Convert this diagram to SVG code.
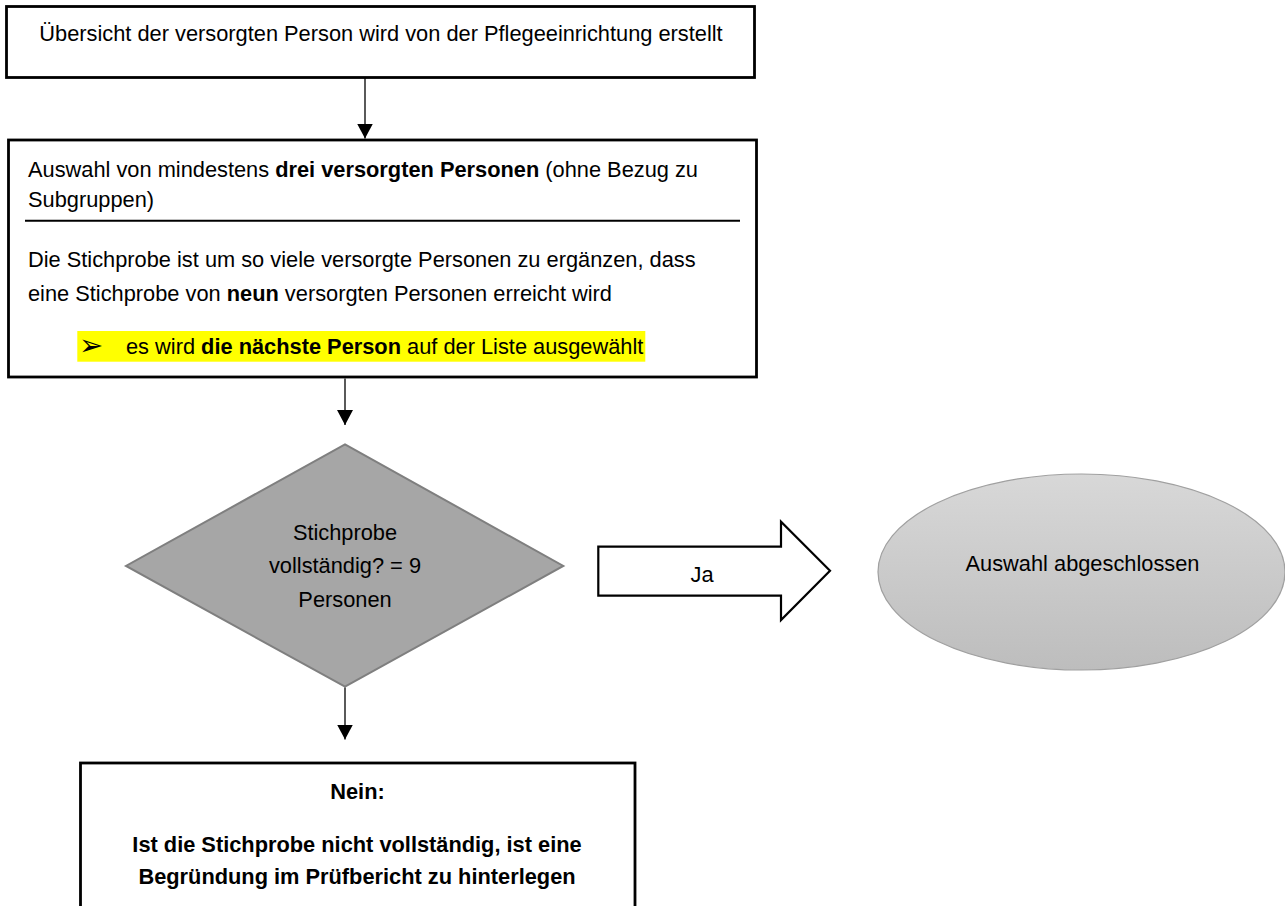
<svg xmlns="http://www.w3.org/2000/svg" width="1285" height="906" viewBox="0 0 1285 906">
<style>
text{font-family:"Liberation Sans",Arial,sans-serif;font-size:21.8px;fill:#000}
.b{font-weight:bold}
.box{fill:#fff;stroke:#000;stroke-width:2.8}
.conn{stroke:#000;stroke-width:1.3;fill:none}
.mid{text-anchor:middle}
</style>
<defs>
<marker id="ah" markerWidth="16" markerHeight="16" viewBox="0 0 16 16" refX="15" refY="8" orient="auto" markerUnits="userSpaceOnUse">
<path d="M0,0 L15,8 L0,16 Z" fill="#000"/>
</marker>
<linearGradient id="eg" x1="0" y1="0" x2="0" y2="1">
<stop offset="0" stop-color="#d8d8d8"/>
<stop offset="1" stop-color="#bdbdbd"/>
</linearGradient>
</defs>
<rect width="1285" height="906" fill="#fff"/>

<g id="n1">
<rect class="box" x="6.5" y="6.5" width="748" height="71"/>
<text class="mid" x="381" y="40.5">Übersicht der versorgten Person wird von der Pflegeeinrichtung erstellt</text>
</g>

<g id="n2">
<rect class="box" x="8.5" y="140" width="748" height="237"/>
<text x="28" y="176.5">Auswahl von mindestens <tspan class="b">drei versorgten Personen</tspan> (ohne Bezug zu</text>
<text x="28" y="206.5">Subgruppen)</text>
<line x1="25" y1="220.7" x2="740" y2="220.7" stroke="#000" stroke-width="2"/>
<text x="28" y="266.7">Die Stichprobe ist um so viele versorgte Personen zu ergänzen, dass</text>
<text x="28" y="300.7">eine Stichprobe von <tspan class="b">neun</tspan> versorgten Personen erreicht wird</text>
<rect x="77.3" y="331" width="568" height="30.7" fill="#ffff00"/>
<text x="79" y="355" style="font-family:'DejaVu Sans',sans-serif;font-size:29px">➢</text>
<text x="126" y="354">es wird <tspan class="b">die nächste Person</tspan> auf der Liste ausgewählt</text>
</g>

<g id="n3">
<polygon points="345,444.3 563.3,566 345,686.7 126,566" fill="#a6a6a6" stroke="#7f7f7f" stroke-width="2"/>
<text class="mid" x="345" y="540">Stichprobe</text>
<text class="mid" x="345" y="573.3">vollständig? = 9</text>
<text class="mid" x="345" y="606.5">Personen</text>
</g>

<g id="n4">
<polygon points="598.3,546.7 781,546.7 781,521.7 830,570.8 781,620 781,595.7 598.3,595.7" fill="#fff" stroke="#000" stroke-width="2.2"/>
<text class="mid" x="702" y="581.7">Ja</text>
</g>

<g id="n5">
<ellipse cx="1081.5" cy="572" rx="203.5" ry="98" fill="url(#eg)" stroke="#a0a0a0" stroke-width="1.2"/>
<text class="mid" x="1082.5" y="570.5">Auswahl abgeschlossen</text>
</g>

<g id="n6">
<rect class="box" x="80.5" y="763" width="554.5" height="170"/>
<text class="mid b" x="357.5" y="798.5">Nein:</text>
<text class="mid b" x="357" y="852">Ist die Stichprobe nicht vollständig, ist eine</text>
<text class="mid b" x="357" y="884">Begründung im Prüfbericht zu hinterlegen</text>
</g>

<g id="connectors">
<line class="conn" x1="365" y1="78" x2="365" y2="138.5" marker-end="url(#ah)"/>
<line class="conn" x1="345" y1="378.5" x2="345" y2="425" marker-end="url(#ah)"/>
<line class="conn" x1="345" y1="687.5" x2="345" y2="739.5" marker-end="url(#ah)"/>
</g>
</svg>
